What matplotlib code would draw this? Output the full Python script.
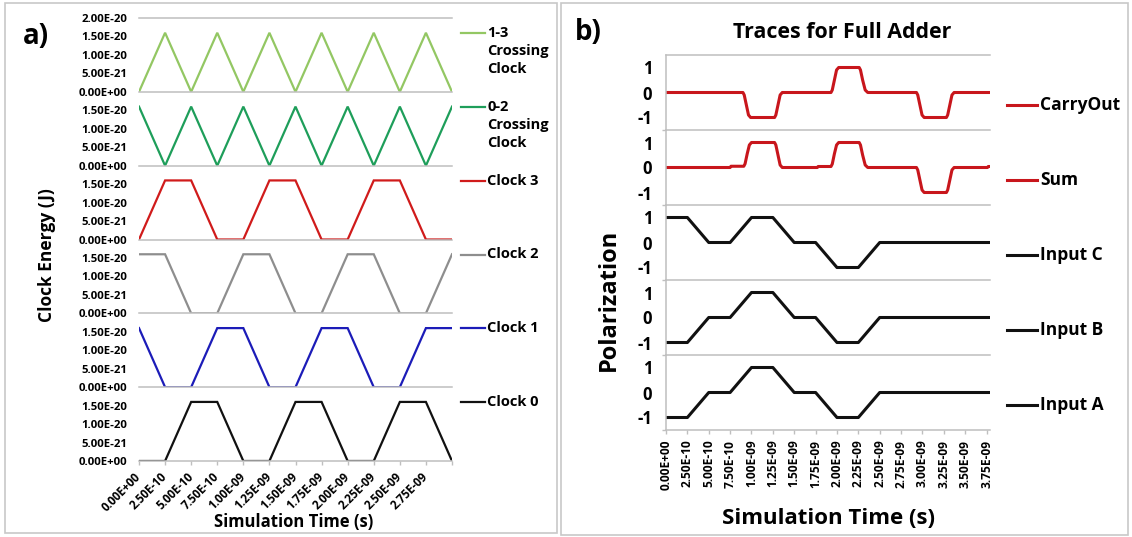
import matplotlib
matplotlib.use("Agg")
import matplotlib.pyplot as plt
from matplotlib.lines import Line2D
from matplotlib.patches import Rectangle
from matplotlib.ticker import FuncFormatter

plt.rcParams['font.family'] = ['Open Sans', 'DejaVu Sans']
plt.rcParams['font.weight'] = 'bold'

# ---------------- panel a: clock energies ----------------
clock_time_ns = [0.0, 0.25, 0.5, 0.75, 1.0, 1.25, 1.5, 1.75, 2.0, 2.25, 2.5, 2.75, 3.0]
# energies in units of 1e-20 J
crossing_13 = [0, 1.6, 0, 1.6, 0, 1.6, 0, 1.6, 0, 1.6, 0, 1.6, 0]
crossing_02 = [1.6, 0, 1.6, 0, 1.6, 0, 1.6, 0, 1.6, 0, 1.6, 0, 1.6]
clock3 = [0, 1.6, 1.6, 0, 0, 1.6, 1.6, 0, 0, 1.6, 1.6, 0, 0]
clock2 = [1.6, 1.6, 0, 0, 1.6, 1.6, 0, 0, 1.6, 1.6, 0, 0, 1.6]
clock1 = [1.6, 0, 0, 1.6, 1.6, 0, 0, 1.6, 1.6, 0, 0, 1.6, 1.6]
clock0 = [0, 0, 1.6, 1.6, 0, 0, 1.6, 1.6, 0, 0, 1.6, 1.6, 0]
clock_series = [crossing_13, crossing_02, clock3, clock2, clock1, clock0]
clock_labels = ["1-3\nCrossing\nClock", "0-2\nCrossing\nClock",
                "Clock 3", "Clock 2", "Clock 1", "Clock 0"]
clock_colors = ["#93C763", "#1E9E5A", "#D01B1B", "#8E8E8E", "#1C1CB8", "#111111"]
energy_ticks_top = [0, 5e-21, 1e-20, 1.5e-20, 2e-20]
energy_ticks = [0, 5e-21, 1e-20, 1.5e-20]
clock_xticks_ns = [0.0, 0.25, 0.5, 0.75, 1.0, 1.25, 1.5, 1.75, 2.0, 2.25, 2.5, 2.75, 3.0]
clock_xticklabels = ["0.00E+00", "2.50E-10", "5.00E-10", "7.50E-10", "1.00E-09",
                     "1.25E-09", "1.50E-09", "1.75E-09", "2.00E-09", "2.25E-09",
                     "2.50E-09", "2.75E-09", ""]

# ---------------- panel b: full adder traces ----------------
carry_t = [0, 0.90, 0.915, 0.94, 0.965, 0.99, 1.27, 1.285, 1.31, 1.335, 1.36,
           1.93, 1.945, 1.97, 1.995, 2.02, 2.26, 2.275, 2.30, 2.33, 2.36,
           2.93, 2.945, 2.97, 2.995, 3.02, 3.28, 3.295, 3.32, 3.345, 3.37, 3.79]
carry_v = [0, 0, -0.1, -0.5, -0.9, -1, -1, -0.9, -0.5, -0.1, 0,
           0, 0.1, 0.5, 0.9, 1, 1, 0.9, 0.5, 0.1, 0,
           0, -0.1, -0.5, -0.9, -1, -1, -0.9, -0.5, -0.1, 0, 0]
sum_t = [0, 0.75, 0.76, 0.91, 0.925, 0.95, 0.975, 1.0, 1.27, 1.285, 1.31, 1.335, 1.36,
         1.77, 1.78, 1.93, 1.945, 1.97, 1.995, 2.02, 2.26, 2.275, 2.30, 2.33, 2.36,
         2.93, 2.945, 2.97, 2.995, 3.02, 3.28, 3.295, 3.32, 3.345, 3.37, 3.76, 3.77, 3.79]
sum_v = [0, 0, 0.05, 0.05, 0.15, 0.55, 0.9, 1, 1, 0.9, 0.5, 0.1, 0,
         0, 0.04, 0.04, 0.14, 0.55, 0.9, 1, 1, 0.9, 0.5, 0.1, 0,
         0, -0.1, -0.5, -0.9, -1, -1, -0.9, -0.5, -0.1, 0, 0, 0.04, 0.04]
input_t = [0, 0.25, 0.5, 0.75, 1.0, 1.25, 1.5, 1.75, 2.0, 2.25, 2.5, 3.79]
input_c = [1, 1, 0, 0, 1, 1, 0, 0, -1, -1, 0, 0]
input_b = [-1, -1, 0, 0, 1, 1, 0, 0, -1, -1, 0, 0]
input_a = [-1, -1, 0, 0, 1, 1, 0, 0, -1, -1, 0, 0]
trace_series = [(carry_t, carry_v), (sum_t, sum_v), (input_t, input_c),
                (input_t, input_b), (input_t, input_a)]
trace_labels = ["CarryOut", "Sum", "Input C", "Input B", "Input A"]
trace_colors = ["#C8161C", "#C8161C", "#111111", "#111111", "#111111"]
trace_xticks_ns = [0.0, 0.25, 0.5, 0.75, 1.0, 1.25, 1.5, 1.75, 2.0, 2.25, 2.5,
                   2.75, 3.0, 3.25, 3.5, 3.75]
trace_xticklabels = ["0.00E+00", "2.50E-10", "5.00E-10", "7.50E-10", "1.00E-09",
                     "1.25E-09", "1.50E-09", "1.75E-09", "2.00E-09", "2.25E-09",
                     "2.50E-09", "2.75E-09", "3.00E-09", "3.25E-09", "3.50E-09",
                     "3.75E-09"]
polarization_ticks = [-1, 0, 1]

W, H = 1132, 537
GRID = "#BFBFBF"
fig = plt.figure(figsize=(W / 100, H / 100), dpi=100)


def fx(px):
    return px / W


def fy(py):
    return 1 - py / H


# outer frames of the two panels
for x0, y0, x1, y1 in [(5, 3, 557, 533), (561, 3, 1128, 535)]:
    fig.add_artist(Rectangle((fx(x0), fy(y1)), fx(x1) - fx(x0), fy(y0) - fy(y1),
                             transform=fig.transFigure, fill=False,
                             edgecolor="#C8C8C8", lw=1.2))

# ---- panel a ----
a_left, a_right, a_top, a_bottom = 139, 452, 18, 461
a_h = (a_bottom - a_top) / 6
sci = FuncFormatter(lambda v, _: f"{v:.2E}")
for i, (vals, lab, col) in enumerate(zip(clock_series, clock_labels, clock_colors)):
    top = a_top + i * a_h
    ax = fig.add_axes([fx(a_left), fy(top + a_h), fx(a_right) - fx(a_left), a_h / H])
    ax.plot(clock_time_ns, [v * 1e-20 for v in vals], color=col, lw=1.6,
            solid_joinstyle="miter")
    ax.set_xlim(0, 3.0)
    ax.set_ylim(0, 2e-20)
    ax.set_yticks(energy_ticks_top if i == 0 else energy_ticks)
    ax.yaxis.set_major_formatter(sci)
    ax.tick_params(axis="y", length=0, pad=8.5, labelsize=8.2)
    for s in ["left", "right"]:
        ax.spines[s].set_visible(False)
    ax.spines["top"].set_visible(i == 0)
    for s in ["top", "bottom"]:
        ax.spines[s].set_color(GRID)
        ax.spines[s].set_linewidth(1.1)
    ax.set_xticks(clock_xticks_ns)
    if i == 5:
        ax.set_xticklabels(clock_xticklabels, rotation=45, ha="right", va="center",
                           rotation_mode="anchor")
        ax.tick_params(axis="x", length=3, color=GRID, width=1, pad=7, labelsize=8.4)
    else:
        ax.tick_params(axis="x", length=0, labelbottom=False)
    ax.patch.set_alpha(0)
    # legend entry
    ly = top + 15
    fig.add_artist(Line2D([fx(461), fx(485)], [fy(ly), fy(ly)], color=col, lw=1.6,
                          transform=fig.transFigure))
    fig.text(fx(487), fy(ly - 7), lab, ha="left", va="top", fontsize=10.5,
             linespacing=1.38)

fig.text(fx(36), fy(37), "a)", fontsize=20, ha="center", va="center")
fig.text(fx(47), fy(255), "Clock Energy (J)", fontsize=12.5, rotation=90,
         ha="center", va="center")
fig.text(fx(294), fy(522), "Simulation Time (s)", fontsize=12, ha="center", va="center")

# ---- panel b ----
b_left, b_right, b_top, b_bottom = 666, 990, 55, 430
b_h = (b_bottom - b_top) / 5
for i, ((tt, vv), lab, col) in enumerate(zip(trace_series, trace_labels, trace_colors)):
    top = b_top + i * b_h
    ax = fig.add_axes([fx(b_left), fy(top + b_h), fx(b_right) - fx(b_left), b_h / H])
    ax.plot(tt, vv, color=col, lw=2.2)
    ax.set_xlim(0, 3.79)
    ax.set_ylim(-1.5, 1.5)
    ax.set_yticks(polarization_ticks)
    ax.set_yticklabels([str(v) for v in polarization_ticks])
    ax.set_yticks([-1.5], minor=True)
    ax.tick_params(axis="y", which="major", length=0, pad=10, labelsize=12)
    ax.tick_params(axis="y", which="minor", length=3, color=GRID, width=1)
    ax.spines["right"].set_visible(False)
    ax.spines["top"].set_visible(i == 0)
    for s in ["top", "bottom", "left"]:
        ax.spines[s].set_color(GRID)
        ax.spines[s].set_linewidth(1.1)
    ax.set_xticks(trace_xticks_ns)
    if i == 4:
        ax.set_xticklabels(trace_xticklabels, rotation=90, ha="center", va="top")
        ax.tick_params(axis="x", length=3, color=GRID, width=1, pad=4, labelsize=8.6)
    else:
        ax.tick_params(axis="x", length=0, labelbottom=False)
    ax.patch.set_alpha(0)
    ly = top + 50
    fig.add_artist(Line2D([fx(1007), fx(1037)], [fy(ly), fy(ly)], color=col, lw=2.2,
                          transform=fig.transFigure))
    fig.text(fx(1040), fy(ly), lab, ha="left", va="center", fontsize=12.5)

fig.text(fx(588), fy(33), "b)", fontsize=20, ha="center", va="center")
fig.text(fx(842), fy(33), "Traces for Full Adder", fontsize=15.4, ha="center",
         va="center")
fig.text(fx(609), fy(300), "Polarization", fontsize=17, rotation=90,
         ha="center", va="center")
fig.text(fx(828), fy(519), "Simulation Time (s)", fontsize=16, ha="center",
         va="center")

fig.savefig("out.png", dpi=100)
